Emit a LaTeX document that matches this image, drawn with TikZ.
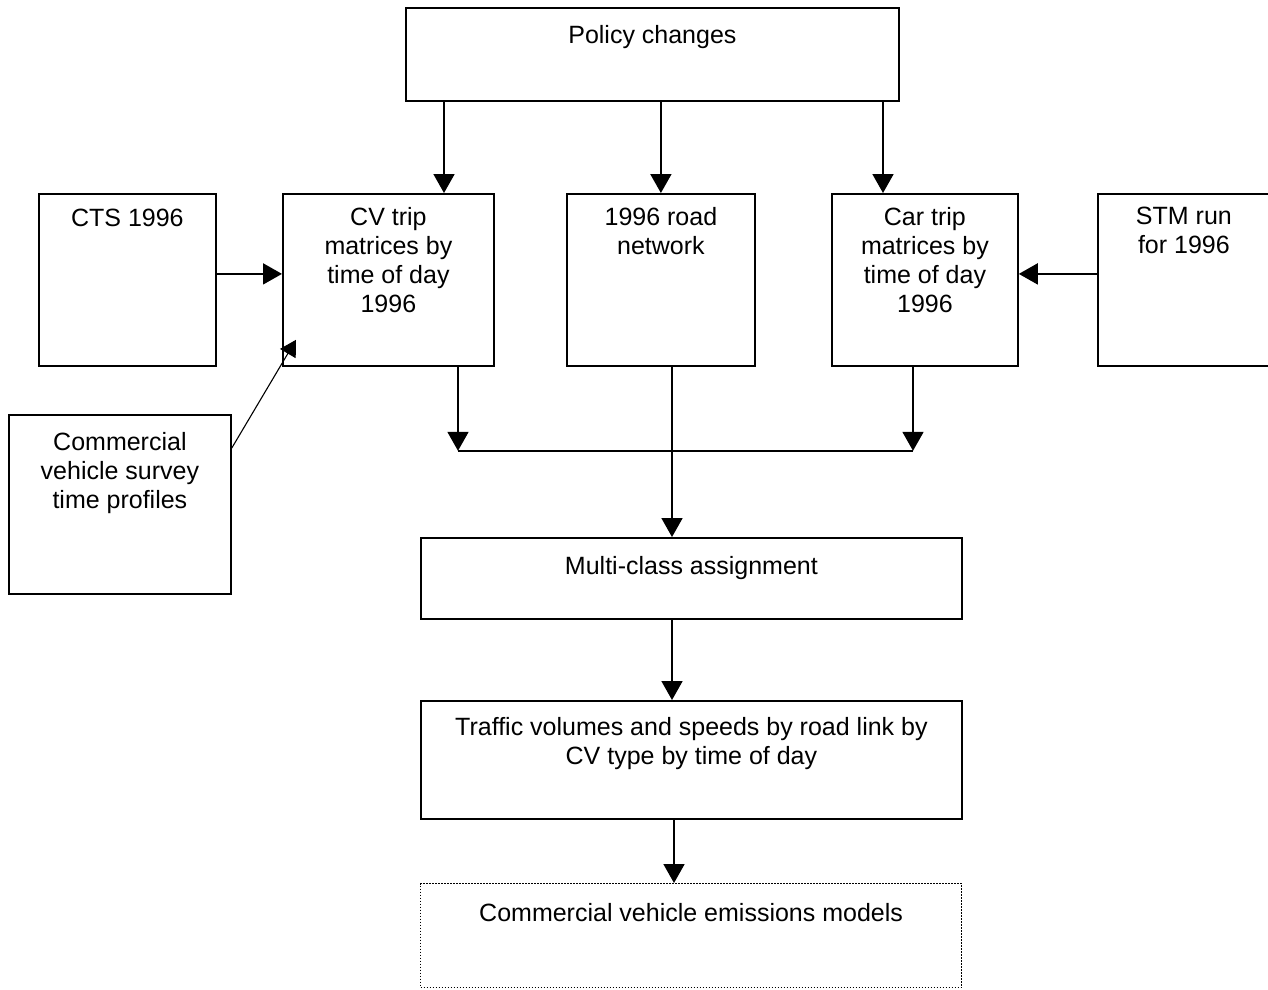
\documentclass[tikz,border=0pt]{standalone}
\usepackage{fontspec}
\setmainfont{Liberation Sans}
\usetikzlibrary{arrows.meta}
\begin{document}
\begin{tikzpicture}[x=1pt,y=-1pt,
 box/.style={draw, line width=1.8pt, rectangle, inner sep=0pt, anchor=north west},
 txt/.style={anchor=north, inner sep=0pt, align=center, font=\fontsize{25}{29}\selectfont},
 arr/.style={line width=1.8pt, -{Triangle[width=21pt,length=19pt]}},
 ln/.style={line width=2pt}]
\useasboundingbox (0,0) rectangle (1268,989);
\clip (0,0) rectangle (1268,989);
% boxes
\node[box, minimum width=493pt, minimum height=93pt] (pol) at (405,7) {};
\node[box, minimum width=177pt, minimum height=172pt] (cts) at (38,193) {};
\node[box, minimum width=211pt, minimum height=172pt] (cv) at (282,193) {};
\node[box, minimum width=188pt, minimum height=172pt] (road) at (566,193) {};
\node[box, minimum width=186pt, minimum height=172pt] (car) at (831,193) {};
\node[box, minimum width=172pt, minimum height=172pt] (stm) at (1097,193) {};
\node[box, minimum width=222pt, minimum height=179pt] (cvs) at (8,414) {};
\node[box, minimum width=541pt, minimum height=81pt] (mca) at (420,537) {};
\node[box, minimum width=541pt, minimum height=118pt] (tv) at (420,700) {};
\node[box, minimum width=541pt, minimum height=104pt, line width=1.2pt, dash pattern=on 1.5pt off 1.5pt] (em) at (420,883) {};
% texts
\node[txt] (polt) at ([yshift=-18pt]pol.north) {Policy changes};
\node[txt] (ctst) at ([yshift=-16pt]cts.north) {CTS 1996};
\node[txt] (cvt) at ([yshift=-14pt]cv.north) {CV trip\\matrices by\\time of day\\1996};
\node[txt] (roadt) at ([yshift=-14pt]road.north) {1996 road\\network};
\node[txt] (cart) at ([yshift=-14pt]car.north) {Car trip\\matrices by\\time of day\\1996};
\node[txt] (stmt) at ([yshift=-14pt]stm.north) {STM run\\for 1996};
\node[txt] (cvst) at ([yshift=-18pt]cvs.north) {Commercial\\vehicle survey\\time profiles};
\node[txt] (mcat) at ([yshift=-19pt]mca.north) {Multi-class assignment};
\node[txt] (tvt) at ([yshift=-17pt]tv.north) {Traffic volumes and speeds by road link by\\CV type by time of day};
\node[txt] (emt) at ([yshift=-20pt]em.north) {Commercial vehicle emissions models};
% connectors from policy
\coordinate (a1) at ([xshift=39pt]pol.south west);
\coordinate (a3) at ([xshift=478pt]pol.south west);
\draw[arr] (a1) -- (a1 |- cv.north);
\draw[arr] (pol.south -| road.north) -- (road.north);
\draw[arr] (a3) -- (a3 |- car.north);
% side inputs
\draw[arr] ([yshift=6pt]cts.east) -- ([yshift=6pt]cv.west);
\draw[arr] ([yshift=6pt]stm.west) -- ([yshift=6pt]car.east);
\coordinate (d0) at ([yshift=-34pt]cvs.north east);
\coordinate (d1) at ([xshift=14pt,yshift=27pt]cv.south west);
\draw[line width=1.1pt, -{Triangle[width=18pt,length=16pt]}] (d0) -- (d1);
% merge
\coordinate (b1) at ([xshift=176pt]cv.south west);
\coordinate (j1) at ([xshift=176pt,yshift=-84pt]cv.south west);
\coordinate (b2) at ([xshift=82pt]car.south west);
\coordinate (j2) at (b2 |- j1);
\draw[arr] (b1) -- (j1);
\draw[arr] (b2) -- (j2);
\draw[ln] (j1) -- (j2);
\coordinate (r1) at ([xshift=106pt]road.south west);
\draw[arr] (r1) -- (r1 |- mca.north);
% lower chain
\coordinate (m1) at ([xshift=252pt]mca.south west);
\draw[arr] (m1) -- (m1 |- tv.north);
\coordinate (t1) at ([xshift=254pt]tv.south west);
\draw[arr] (t1) -- (t1 |- em.north);
\end{tikzpicture}
\end{document}
